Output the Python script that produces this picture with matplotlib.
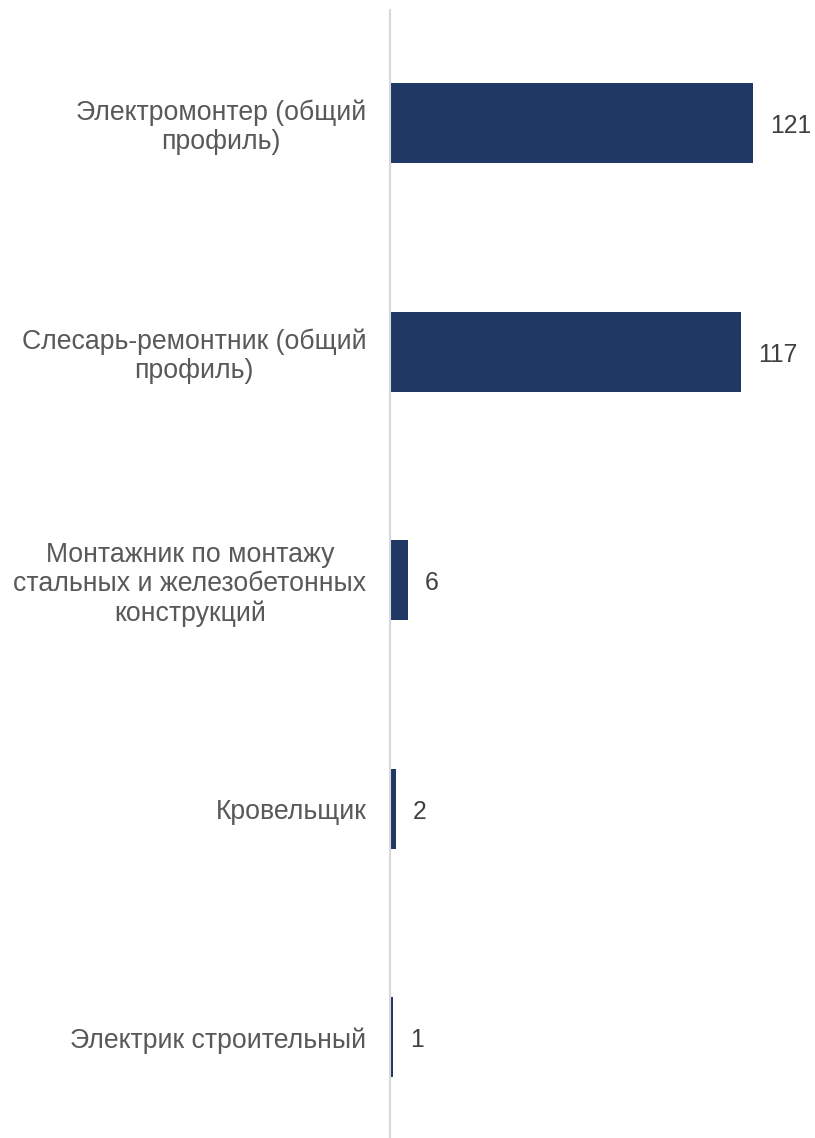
import matplotlib
matplotlib.use("Agg")
import matplotlib.pyplot as plt

categories = ["Электромонтер (общий\nпрофиль)",
              "Слесарь-ремонтник (общий\nпрофиль)",
              "Монтажник по монтажу\nстальных и железобетонных\nконструкций",
              "Кровельщик",
              "Электрик строительный"]
values = [121, 117, 6, 2, 1]

W, H, DPI = 815, 1138, 100
fig = plt.figure(figsize=(W / DPI, H / DPI), dpi=DPI)
left = 390 / W
right = 795 / W
ax = fig.add_axes([left, 0, right - left, 1 - 10 / H])
ypos = list(range(len(categories)))
ax.barh(ypos, values, height=0.35, color="#203864", zorder=2)
ax.set_xlim(0, (795 - 390) / 3.0)
ax.set_ylim(4.44, -0.494)

for s in ["top", "right", "bottom"]:
    ax.spines[s].set_visible(False)
ax.spines["left"].set_color("#d9d9d9")
ax.spines["left"].set_linewidth(1.5)
ax.set_xticks([])
ax.set_yticks(ypos)
ax.set_yticklabels(categories, fontsize=19.2, color="#595959",
                   family=["Liberation Sans", "DejaVu Sans"], linespacing=1.15)
for lbl in ax.get_yticklabels():
    lbl.set_multialignment("center")
ax.tick_params(axis="y", length=0, pad=17)

for y, v in zip(ypos, values):
    ax.annotate(str(v), xy=(v, y), xytext=(17, -3), textcoords="offset pixels",
                va="center", ha="left", fontsize=17.8, color="#404040",
                family=["Liberation Sans", "DejaVu Sans"])

fig.savefig("out.png", dpi=DPI)
